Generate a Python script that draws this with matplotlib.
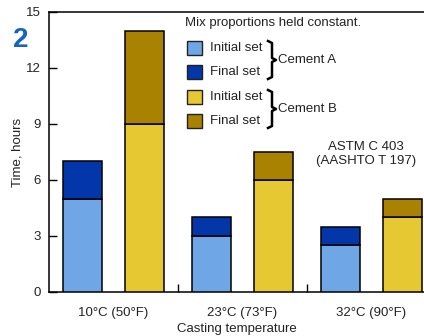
import matplotlib
matplotlib.use("Agg")
import matplotlib.pyplot as plt
from matplotlib.lines import Line2D
from matplotlib.patches import Rectangle

plt.rcParams['font.family'] = ['Liberation Sans', 'DejaVu Sans']

temps = ["10°C (50°F)", "23°C (73°F)", "32°C (90°F)"]
a_initial = [5, 3, 2.5]
a_final = [7, 4, 3.5]
b_initial = [9, 6, 4]
b_final = [14, 7.5, 5]

c_a_init = "#6fa6e6"
c_a_final = "#0336a8"
c_b_init = "#e6c832"
c_b_final = "#a88200"

W, H = 424, 336
fig = plt.figure(figsize=(W / 100, H / 100), dpi=100)
ax = fig.add_axes([49 / W, 1 - 292 / H, (W - 49) / W, 280 / H])


def fx(px):
    return px / W


def fy(py):
    return 1 - py / H


fs = 9.5
tc = "#222222"

x = list(range(len(temps)))
off = 0.24
bw = 0.30
xa = [i - off for i in x]
xb = [i + off for i in x]
a_top = [f - i for i, f in zip(a_initial, a_final)]
b_top = [f - i for i, f in zip(b_initial, b_final)]

kw = dict(width=bw, edgecolor="black", linewidth=1.1, zorder=3)
ax.bar(xa, a_initial, color=c_a_init, **kw)
ax.bar(xa, a_top, bottom=a_initial, color=c_a_final, **kw)
ax.bar(xb, b_initial, color=c_b_init, **kw)
ax.bar(xb, b_top, bottom=b_initial, color=c_b_final, **kw)

ax.set_xlim(-0.5, -0.5 + (W - 49) / 129)
ax.set_ylim(0, 15)
ax.set_yticks([0, 3, 6, 9, 12, 15])
ax.tick_params(axis="y", direction="in", length=6, width=1, labelsize=fs,
               labelcolor=tc, pad=6)
ax.set_xticks([0.5, 1.5])
ax.set_xticklabels([])
ax.tick_params(axis="x", which="major", direction="in", length=6, width=1)
ax.set_xticks(x, minor=True)
ax.set_xticklabels(temps, minor=True)
ax.tick_params(axis="x", which="minor", length=0, labelsize=fs,
               labelcolor=tc, pad=11)
ax.spines["right"].set_visible(False)
for s in ["left", "top", "bottom"]:
    ax.spines[s].set_linewidth(1.1)
ax.set_xlabel("Casting temperature", fontsize=fs, color=tc, labelpad=3)
ax.set_ylabel("Time, hours", fontsize=fs, color=tc, labelpad=2)

fig.text(fx(21), fy(40), "2", fontsize=20, fontweight="bold", color="#1464c0",
         ha="center", va="center")

# legend
fig.text(fx(185), fy(23), "Mix proportions held constant.", fontsize=fs,
         color=tc, va="center")
rows = [("Initial set", c_a_init, 48), ("Final set", c_a_final, 72),
        ("Initial set", c_b_init, 97), ("Final set", c_b_final, 121)]
for label, col, py in rows:
    fig.add_artist(Rectangle((fx(187), fy(py + 7)), 15 / W, 14 / H,
                             transform=fig.transFigure, facecolor=col,
                             edgecolor="#222222", linewidth=1))
    fig.text(fx(210), fy(py), label, fontsize=fs, color=tc, va="center")

for top, bot, name in [(41, 79, "Cement A"), (90, 128, "Cement B")]:
    mid = (top + bot) / 2
    xs = [268, 272, 272, 276, 272, 272, 268]
    ys = [top, top + 2, mid - 2, mid, mid + 2, bot - 2, bot]
    fig.add_artist(Line2D([fx(v) for v in xs], [fy(v) for v in ys],
                          transform=fig.transFigure, color="black", lw=1.8))
    fig.text(fx(278), fy(mid), name, fontsize=fs, color=tc, va="center")

fig.text(fx(366), fy(154), "ASTM C 403\n(AASHTO T 197)", fontsize=fs,
         color=tc, ha="center", va="center", linespacing=1.15)

fig.savefig("out.png", dpi=100)
